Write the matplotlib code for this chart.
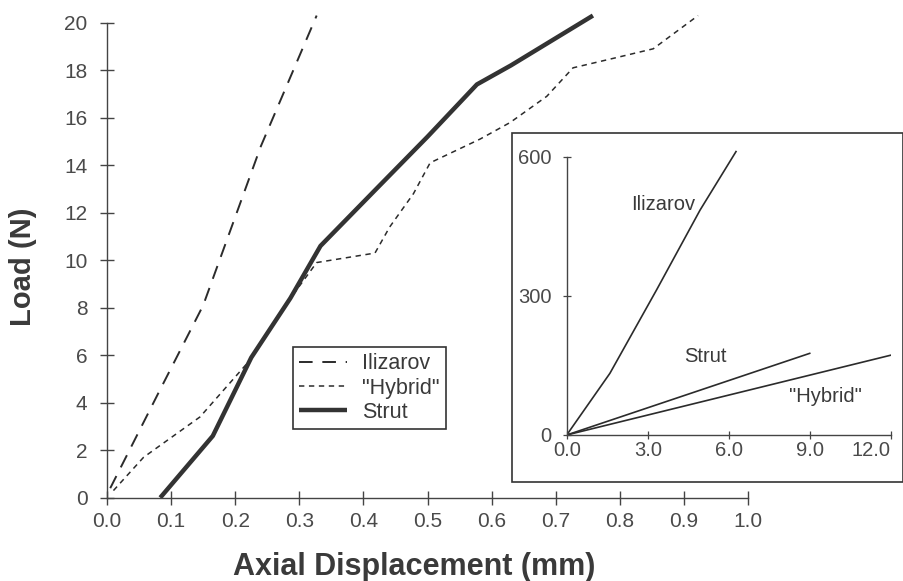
import matplotlib
matplotlib.use("Agg")
import matplotlib.pyplot as plt
from matplotlib.patches import Rectangle

plt.rcParams['font.family'] = ['Liberation Sans', 'DejaVu Sans']

# main plot data
ilizarov_x = [0.005, 0.08, 0.15, 0.24, 0.327]
ilizarov_y = [0.4, 4.4, 8.1, 14.8, 20.3]

hybrid_x = [0.01, 0.057, 0.145, 0.22, 0.27, 0.327, 0.418, 0.441, 0.478, 0.504,
            0.582, 0.629, 0.686, 0.727, 0.79, 0.852, 0.922]
hybrid_y = [0.3, 1.7, 3.4, 5.7, 7.8, 9.9, 10.3, 11.4, 12.8, 14.1,
            15.1, 15.8, 16.9, 18.1, 18.5, 18.9, 20.3]

strut_x = [0.083, 0.165, 0.225, 0.286, 0.333, 0.42, 0.50, 0.577, 0.63, 0.758]
strut_y = [0.0, 2.6, 5.9, 8.4, 10.6, 13.0, 15.2, 17.4, 18.2, 20.3]

x_ticks = [0.0, 0.1, 0.2, 0.3, 0.4, 0.5, 0.6, 0.7, 0.8, 0.9, 1.0]
y_ticks = [0, 2, 4, 6, 8, 10, 12, 14, 16, 18, 20]

# inset data
in_iliz_x = [0, 1.6, 3.33, 4.94, 6.27]
in_iliz_y = [0, 133, 313, 485, 611]
in_strut_x = [0, 9.0]
in_strut_y = [0, 176]
in_hybrid_x = [0, 12.0]
in_hybrid_y = [0, 172]
in_x_ticks = [0, 3, 6, 9, 12]
in_x_labels = ['0.0', '3.0', '6.0', '9.0', '12.0']
in_y_ticks = [0, 300, 600]

ink = '#2b2b2b'
txt = '#3a3a3a'

fig = plt.figure(figsize=(9.04, 5.81), dpi=100)

#MAIN AXES
ax = fig.add_axes([0.1184, 0.1434, 0.7091, 0.8339])
ax.plot(ilizarov_x, ilizarov_y, color=ink, lw=1.4, linestyle=(0, (7, 5)), label='Ilizarov')
ax.plot(hybrid_x, hybrid_y, color=ink, lw=1.1, linestyle=(0, (3.5, 3)), label='"Hybrid"')
ax.plot(strut_x, strut_y, color='#333333', lw=3.2, solid_capstyle='butt', label='Strut')

ax.set_xlim(0, 1.0)
ax.set_ylim(0, 20.4)
ax.spines['top'].set_visible(False)
ax.spines['right'].set_visible(False)
for s in ['left', 'bottom']:
    ax.spines[s].set_color('#444444')
    ax.spines[s].set_linewidth(1.0)
ax.spines['left'].set_bounds(0, 20)
ax.set_xticks(x_ticks)
ax.set_xticklabels(['%.1f' % v for v in x_ticks])
ax.set_yticks(y_ticks)
ax.tick_params(axis='both', direction='inout', length=10, width=1.0, color='#444444',
               labelsize=15, labelcolor='#4a4a4a')
ax.tick_params(axis='y', pad=9.0)
ax.tick_params(axis='x', pad=5.5)
ax.patch.set_alpha(0)

leg = ax.legend(loc='upper left', bbox_to_anchor=(0.290, 0.311), borderaxespad=0,
                fontsize=15.5, handlelength=2.2, handletextpad=0.7, labelspacing=0.15,
                borderpad=0.3, fancybox=False, framealpha=1)
leg.get_frame().set_edgecolor('#333333')
leg.get_frame().set_linewidth(1.2)
for t in leg.get_texts():
    t.set_color(txt)

fig.text(414 / 904, 1 - 567 / 581, 'Axial Displacement (mm)', ha='center', va='center',
         fontsize=22, fontweight='bold', color=txt)
fig.text(23 / 904, 1 - 267 / 581, 'Load (N)', ha='center', va='center', rotation=90,
         fontsize=21, fontweight='bold', color=txt)

#INSET FRAME
fig.patches.append(Rectangle((0.5664, 0.1704), 0.4325, 0.6007, transform=fig.transFigure,
                             fill=False, edgecolor='#333333', linewidth=1.2, zorder=5))

#INSET AXES
ia = fig.add_axes([0.6269, 0.2513, 0.3584, 0.495])
ia.patch.set_alpha(0)
ia.plot(in_iliz_x, in_iliz_y, color=ink, lw=1.2)
ia.plot(in_strut_x, in_strut_y, color=ink, lw=1.2)
ia.plot(in_hybrid_x, in_hybrid_y, color=ink, lw=1.2)
ia.set_xlim(0, 12)
ia.set_ylim(0, 620)
ia.spines['top'].set_visible(False)
ia.spines['right'].set_visible(False)
for s in ['left', 'bottom']:
    ia.spines[s].set_color('#444444')
    ia.spines[s].set_linewidth(1.0)
ia.spines['left'].set_bounds(0, 600)
ia.set_xticks(in_x_ticks)
ia.set_xticklabels(in_x_labels)
ia.set_yticks(in_y_ticks)
ia.tick_params(axis='both', direction='inout', length=6, width=0.9, color='#444444',
               labelsize=14.5, labelcolor='#4a4a4a')
ia.tick_params(axis='x', pad=1.5)
ia.tick_params(axis='y', pad=8)
ia.get_xticklabels()[-1].set_horizontalalignment('right')
ia.get_xticklabels()[-1].set_x(12.4)

ia.text(3.57, 496, 'Ilizarov', ha='center', va='center', fontsize=14.5, color=txt)
ia.text(5.15, 169, 'Strut', ha='center', va='center', fontsize=14.5, color=txt)
ia.text(9.57, 83, '"Hybrid"', ha='center', va='center', fontsize=14.5, color=txt)

fig.savefig('out.png', dpi=100)
